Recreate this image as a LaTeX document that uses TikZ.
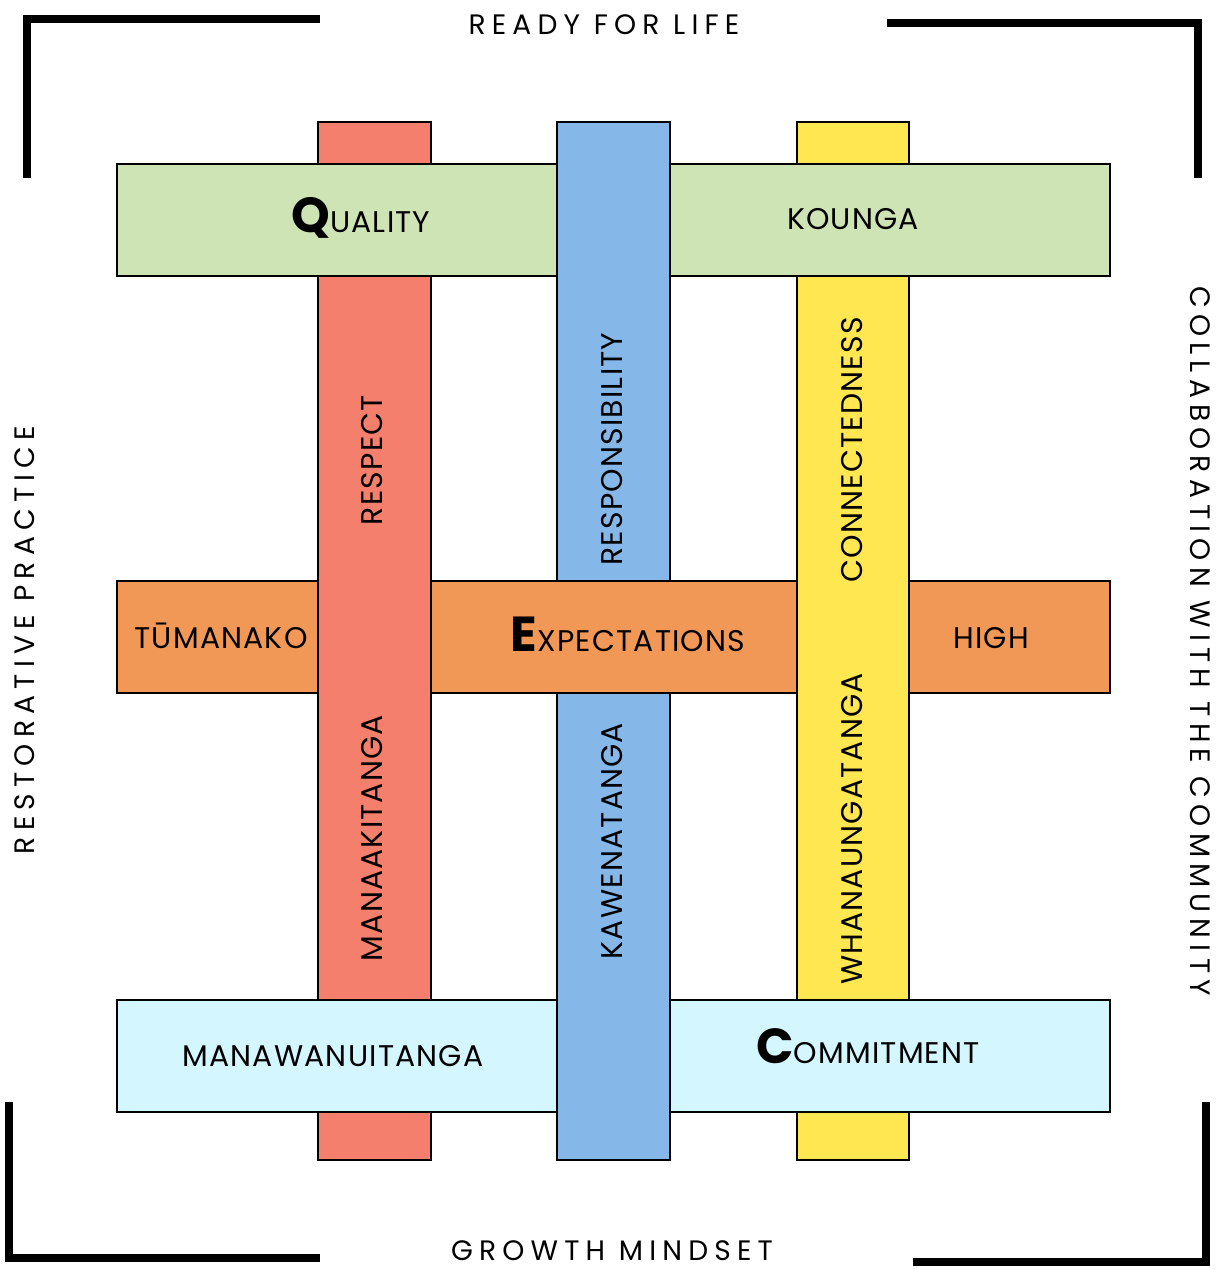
\documentclass[tikz,border=0pt]{standalone}
\usepackage{fontspec}
\setmainfont{Poppins}
\usepackage{tikz}
\usetikzlibrary{positioning}
\definecolor{redbar}{RGB}{245,127,109}
\definecolor{bluebar}{RGB}{133,184,232}
\definecolor{yellowbar}{RGB}{255,231,81}
\definecolor{greenbar}{RGB}{207,228,181}
\definecolor{orangebar}{RGB}{241,152,86}
\definecolor{cyanbar}{RGB}{211,246,255}
\newcommand{\firstcap}[1]{{\fontsize{28}{28}\selectfont\bfseries #1}}

\begin{document}
\begin{tikzpicture}[
    x=0.02cm, y=-0.02cm,
    bar/.style={draw=black, line width=1.3pt},
    frame/.style={line width=4.5pt},
    label/.style={font=\fontsize{17}{17}\selectfont\addfontfeature{LetterSpace=4}, inner sep=0pt, anchor=base},
    vlabel/.style={font=\fontsize{17}{17}\selectfont\addfontfeature{LetterSpace=4}, inner sep=0pt, rotate=90},
    side/.style={font=\fontsize{16}{16}\selectfont\addfontfeature{LetterSpace=22}, inner sep=0pt}
]
\useasboundingbox (0,0) rectangle (1215,1269);

% corner frame
\draw[frame] (320,19) -- (27,19) -- (27,178);
\draw[frame] (887,23) -- (1198,23) -- (1198,178);
\draw[frame] (9,1102) -- (9,1258) -- (320,1258);
\draw[frame] (1206,1102) -- (1206,1262) -- (913,1262);

% woven bars
\draw[bar, fill=redbar] (318,122) rectangle (431,1160);
\draw[bar, fill=yellowbar] (797,122) rectangle (909,1160);
\draw[bar, fill=greenbar] (117,164) rectangle (1110,276);
\draw[bar, fill=bluebar] (557,122) rectangle (670,1160);
\draw[bar, fill=orangebar] (117,581) rectangle (1110,693);
\draw[bar, fill=cyanbar] (117,1000) rectangle (1110,1112);

% vertical bars passing over
\fill[redbar] (318,570) rectangle (431,705);
\draw[bar] (318,570) -- (318,705) (431,570) -- (431,705);
\fill[yellowbar] (797,570) rectangle (909,705);
\draw[bar] (797,570) -- (797,705) (909,570) -- (909,705);
\fill[bluebar] (557,990) rectangle (670,1125);
\draw[bar] (557,990) -- (557,1125) (670,990) -- (670,1125);

% bar labels
\node[label] (quality) at (361,232) {\firstcap{Q}UALITY};
\node[label] (kounga) at (853,229) {KOUNGA};
\node[label] (tumanako) at (221,648) {TŪMANAKO};
\node[label] (expect) at (628,651) {\firstcap{E}XPECTATIONS};
\node[label] (high) at (991,648) {HIGH};
\node[label] (manawa) at (333,1066) {MANAWANUITANGA};
\node[label] (commit) at (868,1063) {\firstcap{C}OMMITMENT};

\node[vlabel] (respect) at (372,460) {RESPECT};
\node[vlabel] (manaaki) at (372,838) {MANAAKITANGA};
\node[vlabel] (respons) at (612,449) {RESPONSIBILITY};
\node[vlabel] (kawena) at (612,841) {KAWENATANGA};
\node[vlabel] (connect) at (852,450) {CONNECTEDNESS};
\node[vlabel] (whanau) at (852,829) {WHANAUNGATANGA};

% outer words
\node[side] (ready) at (604,25) {READY FOR LIFE};
\node[side] (growth) at (612,1251) {GROWTH MINDSET};
\node[side, rotate=90] (restore) at (25,640) {RESTORATIVE PRACTICE};
\node[side, rotate=-90] (collab) at (1200,641) {COLLABORATION WITH THE COMMUNITY};

\end{tikzpicture}
\end{document}
